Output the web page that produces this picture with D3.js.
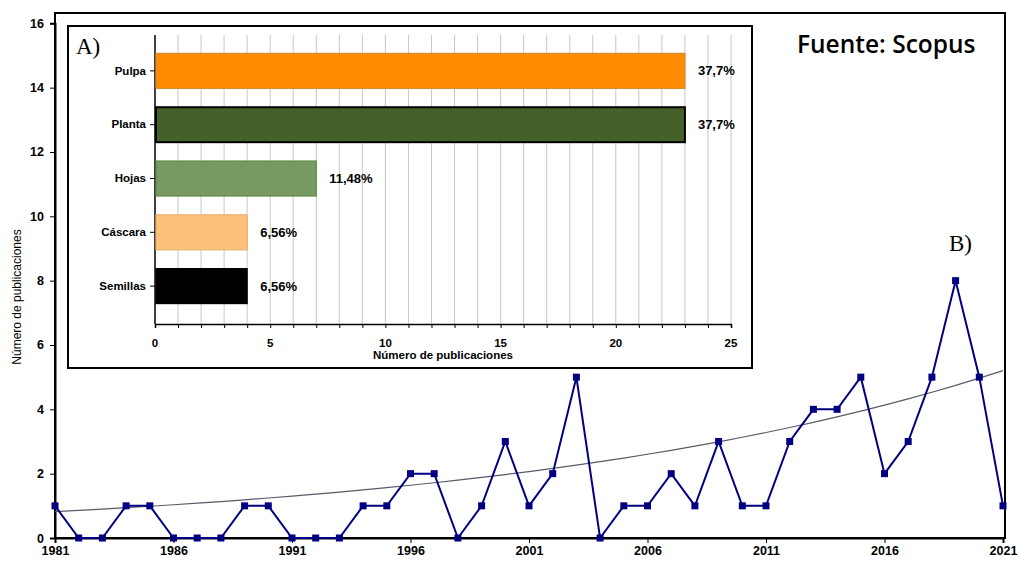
<!DOCTYPE html>
<html>
<head>
<meta charset="utf-8">
<script src="https://cdn.jsdelivr.net/npm/d3@7"></script>
<style>
  body { margin: 0; background: #fff; }
  svg { display: block; font-family: "Liberation Sans", Arial, sans-serif; }
</style>
</head>
<body>
<script>
// publications per year (Scopus)
var years = d3.range(1981, 2022);
var pubs = [1,0,0,1,1,0,0,0,1,1,
            0,0,0,1,1,2,2,0,1,3,
            1,2,5,0,1,1,2,1,3,1,
            1,3,4,4,5,2,3,5,8,5,1];
var yearTicks = [1981,1986,1991,1996,2001,2006,2011,2016,2021];
var countTicks = [0,2,4,6,8,10,12,14,16];

// exponential trend line  y = a * exp(b * (year - 1981))
var trendA = 0.82, trendB = 0.0462;

// inset: publications by plant part
var parts = ["Pulpa","Planta","Hojas","Cáscara","Semillas"];
var partCounts = [23,23,7,4,4];
var partLabels = ["37,7%","37,7%","11,48%","6,56%","6,56%"];
var partFill = ["#ff8c00","#446129","#769a62","#ffc07a","#000000"];
var partStroke = ["#d98a2c","#000000","#5e8a46","#e8b070","#000000"];
var insetTicks = [0,5,10,15,20,25];

var width = 1019, height = 562;

var svg = d3.select("body")
	.append("svg")
	.attr("width", width)
	.attr("height", height);

// ---- main chart (B) ----
var x = d3.scaleLinear().domain([1981, 2021]).range([55, 1003]);
var y = d3.scaleLinear().domain([0, 16]).range([538, 23.3]);

// frame
svg.append("rect")
	.attr("x", 55).attr("y", 13)
	.attr("width", 950).attr("height", 525)
	.attr("fill", "none")
	.attr("stroke", "#000")
	.attr("stroke-width", 2);

var yAxis = svg.append("g")
	.attr("transform", "translate(55,0)")
	.call(d3.axisLeft(y).tickValues(countTicks).tickSize(5).tickPadding(6));
yAxis.select(".domain").attr("stroke-width", 2);
yAxis.selectAll("text").attr("font-size", 12.5).attr("font-weight", "bold").attr("fill", "#000");

var xAxis = svg.append("g")
	.attr("transform", "translate(0,538)")
	.call(d3.axisBottom(x).tickValues(yearTicks).tickFormat(d3.format("d")).tickSize(5).tickPadding(3));
xAxis.select(".domain").attr("stroke-width", 2);
xAxis.selectAll("text").attr("font-size", 12.5).attr("font-weight", "bold").attr("fill", "#000");

svg.append("text")
	.attr("transform", "translate(21,297) rotate(-90)")
	.attr("text-anchor", "middle")
	.attr("font-size", 12)
	.text("Número de publicaciones");

// trend
var trendLine = d3.line()
	.x(function(d){ return x(d); })
	.y(function(d){ return y(trendA * Math.exp(trendB * (d - 1981))); })
	.curve(d3.curveMonotoneX);
svg.append("path")
	.datum(years)
	.attr("d", trendLine)
	.attr("fill", "none")
	.attr("stroke", "#5a5a6a")
	.attr("stroke-width", 1.2);

// series
var series = years.map(function(d,i){ return {year:d, n:pubs[i]}; });
svg.append("path")
	.datum(series)
	.attr("d", d3.line().x(function(d){ return x(d.year); }).y(function(d){ return y(d.n); }))
	.attr("fill", "none")
	.attr("stroke", "#000080")
	.attr("stroke-width", 2);

svg.selectAll("rect.mark")
	.data(series)
	.enter()
	.append("rect")
	.attr("class", "mark")
	.attr("x", function(d){ return x(d.year) - 3.5; })
	.attr("y", function(d){ return y(d.n) - 3.5; })
	.attr("width", 7)
	.attr("height", 7)
	.attr("fill", "#000080");

svg.append("text")
	.attr("x", 949).attr("y", 251)
	.attr("font-family", "'Liberation Serif', 'Times New Roman', serif")
	.attr("font-size", 23)
	.text("B)");

svg.append("text")
	.attr("x", 797).attr("y", 53)
	.attr("font-family", "'Open Sans', sans-serif")
	.attr("font-weight", 600)
	.attr("font-size", 24.5)
	.text("Fuente: Scopus");

// ---- inset (A) ----
svg.append("rect")
	.attr("x", 68).attr("y", 26)
	.attr("width", 684).attr("height", 342)
	.attr("fill", "#fff")
	.attr("stroke", "#000")
	.attr("stroke-width", 2);

var ix = d3.scaleLinear().domain([0, 25]).range([155, 731]);
var iy = d3.scaleBand().domain(parts).range([44, 313]).paddingInner(0.35).paddingOuter(0.175);

// gridlines every unit
svg.append("g")
	.selectAll("line")
	.data(d3.range(1, 26))
	.enter()
	.append("line")
	.attr("x1", function(d){ return ix(d); })
	.attr("x2", function(d){ return ix(d); })
	.attr("y1", 35)
	.attr("y2", 324)
	.attr("stroke", "#c8c8c8")
	.attr("stroke-width", 1);

var ixAxis = svg.append("g")
	.attr("transform", "translate(0,324)")
	.call(d3.axisBottom(ix).ticks(25).tickFormat("").tickSize(4));
ixAxis.select(".domain").attr("stroke-width", 1.5);

svg.append("g")
	.selectAll("text")
	.data(insetTicks)
	.enter()
	.append("text")
	.attr("x", function(d){ return ix(d); })
	.attr("y", 347)
	.attr("text-anchor", "middle")
	.attr("font-size", 11.5)
	.attr("font-weight", "bold")
	.text(function(d){ return d; });

svg.append("text")
	.attr("x", 443).attr("y", 359)
	.attr("text-anchor", "middle")
	.attr("font-size", 11.5)
	.attr("font-weight", "bold")
	.text("Número de publicaciones");

var iyAxis = svg.append("g")
	.attr("transform", "translate(155,0)")
	.call(d3.axisLeft(iy).tickSize(5).tickPadding(4).tickSizeOuter(0));
iyAxis.select(".domain").attr("d", "M0,35V324").attr("stroke-width", 1.5);
iyAxis.selectAll("text").attr("font-size", 11.5).attr("font-weight", "bold").attr("fill", "#000");

svg.selectAll("rect.bar")
	.data(parts)
	.enter()
	.append("rect")
	.attr("class", "bar")
	.attr("x", ix(0) + 1)
	.attr("y", function(d){ return iy(d); })
	.attr("width", function(d,i){ return ix(partCounts[i]) - ix(0) - 1; })
	.attr("height", iy.bandwidth())
	.attr("fill", function(d,i){ return partFill[i]; })
	.attr("stroke", function(d,i){ return partStroke[i]; })
	.attr("stroke-width", function(d,i){ return i == 1 ? 2 : 1.2; });

svg.selectAll("text.val")
	.data(parts)
	.enter()
	.append("text")
	.attr("class", "val")
	.attr("x", function(d,i){ return ix(partCounts[i]) + 13; })
	.attr("y", function(d){ return iy(d) + iy.bandwidth() / 2 + 4.5; })
	.attr("font-size", 13)
	.attr("font-weight", "bold")
	.text(function(d,i){ return partLabels[i]; });

svg.append("text")
	.attr("x", 76).attr("y", 54)
	.attr("font-family", "'Liberation Serif', 'Times New Roman', serif")
	.attr("font-size", 23)
	.text("A)");
</script>
</body>
</html>
